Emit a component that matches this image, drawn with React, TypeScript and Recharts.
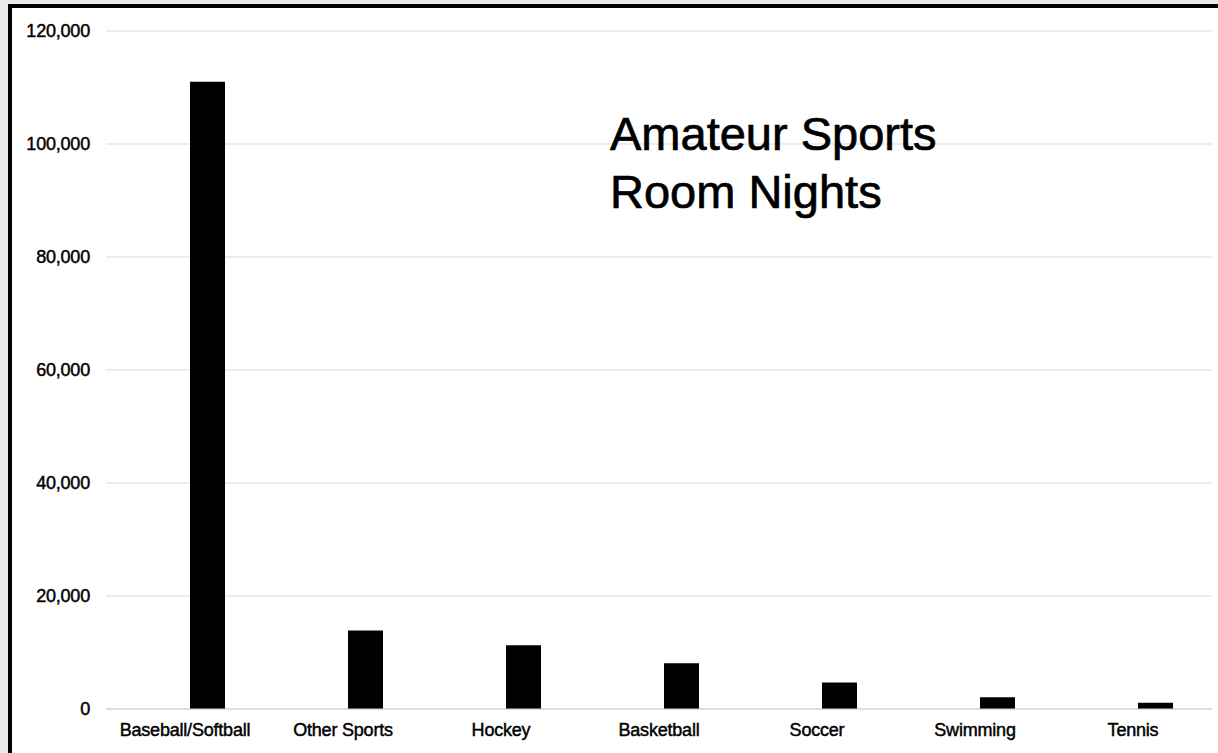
import { BarChart, Bar, XAxis, YAxis, CartesianGrid } from 'recharts'

const sports = ['Baseball/Softball', 'Other Sports', 'Hockey', 'Basketball', 'Soccer', 'Swimming', 'Tennis']
const roomNights = [111000, 13900, 11300, 8100, 4700, 2100, 1100]
// the source sheet had an empty first column, which pushes the bars right of each label
const blankSeries = [null, null, null, null, null, null, null]
const yTicks = [0, 20000, 40000, 60000, 80000, 100000, 120000]

const data = sports.map((s, i) => ({ sport: s, blank: blankSeries[i], nights: roomNights[i] }))

const font = '"Liberation Sans", Arial, sans-serif'
const fmt = (v: number) => v.toLocaleString('en-US')
const tickStyle = {fill:'#000',stroke:'#000',strokeWidth:0.45,fontSize:18,fontFamily:font,letterSpacing:-0.2}

export default function App() {
  return (
    <div style={{position:'fixed',left:0,top:0,width:1218,height:753,background:'#e9e9e9',overflow:'hidden',fontFamily:font}}>
      <div style={{position:'absolute',left:8,top:4,width:1260,height:800,background:'#fff',border:'4px solid #000',boxSizing:'border-box'}}/>
      <div style={{position:'absolute',left:0,top:0}}>
        <BarChart width={1218} height={753} data={data} margin={{top:31,right:6,left:0,bottom:0}} barSize={35} barGap={10}>
          <CartesianGrid horizontal vertical={false} stroke="#d9d9d9"/>
          <XAxis dataKey="sport" height={44} tickSize={0} tickMargin={14} axisLine={{stroke:'#d0d0d0'}} tickLine={false}
            tick={tickStyle} interval={0}/>
          <YAxis width={106} domain={[0, 120000]} ticks={yTicks} tickFormatter={fmt} tickSize={0} tickMargin={16}
            axisLine={false} tickLine={false} tick={tickStyle}/>
          <Bar dataKey="blank" fill="#000" isAnimationActive={false}/>
          <Bar dataKey="nights" fill="#000" isAnimationActive={false}/>
        </BarChart>
      </div>
      <div style={{position:'absolute',left:610,top:105,fontSize:47,lineHeight:'58px',color:'#000',WebkitTextStroke:'0.7px #000'}}>
        Amateur Sports<br/>Room Nights
      </div>
    </div>
  )
}
